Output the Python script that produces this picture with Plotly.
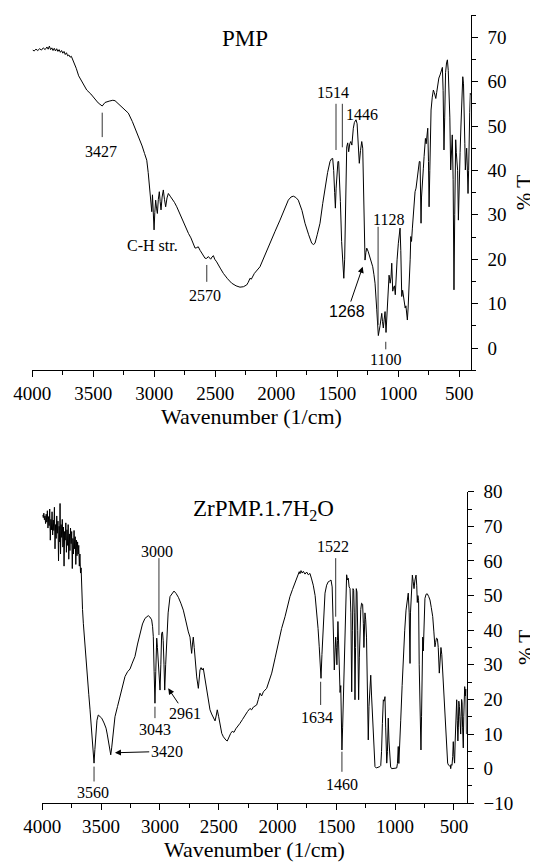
import plotly.graph_objects as go

# ---------------- PMP spectrum (top) ----------------
pmp_wn = [3997, 3985, 3970, 3955, 3940, 3925, 3910, 3895, 3880, 3870, 3860, 3850, 3840, 3830, 3820, 3810,
          3800, 3790, 3780, 3770, 3760, 3750, 3740, 3730, 3720, 3710, 3700, 3690, 3680, 3670, 3660,
          3640, 3620, 3595, 3575, 3554, 3520, 3490, 3460, 3427, 3404, 3370, 3340, 3322, 3290, 3260,
          3213, 3180, 3150, 3131, 3100, 3080, 3062, 3050, 3040, 3035, 3028, 3021, 3015, 3008, 3002,
          2996, 2989, 2982, 2975, 2967, 2959, 2952, 2945, 2936, 2926, 2917, 2907, 2896, 2885, 2870,
          2857, 2835, 2816, 2780, 2748, 2720, 2700, 2680, 2666, 2652, 2640, 2625, 2605, 2584, 2570,
          2557, 2545, 2538, 2527, 2516, 2505, 2489, 2460, 2434, 2400, 2366, 2330, 2298, 2270, 2243,
          2230, 2216, 2205, 2180, 2134, 2090, 2052, 2010, 1970, 1935, 1902, 1880, 1861, 1840, 1820,
          1790, 1765, 1735, 1710, 1695, 1683, 1665, 1642, 1620, 1601, 1580, 1560, 1548, 1538, 1530,
          1522, 1516, 1510, 1502, 1495, 1489, 1483, 1475, 1465, 1455, 1447, 1440, 1432, 1423, 1415,
          1407, 1398, 1390, 1381, 1375, 1369, 1360, 1347, 1338, 1330, 1320, 1310, 1300, 1292, 1285,
          1278, 1273, 1266, 1259, 1248, 1238, 1225, 1210, 1200, 1191, 1177, 1170, 1164, 1150, 1136,
          1130, 1123, 1116, 1109, 1101, 1094, 1087, 1080, 1076, 1067, 1060, 1054, 1046, 1040, 1032,
          1025, 1019, 1010, 1000, 992, 986, 980, 975, 972, 965, 958, 951, 944, 938, 932,
          926, 920, 915, 910, 903, 898, 892, 885, 875, 863, 855, 845, 836, 828, 822,
          818, 814, 810, 803, 795, 789, 783, 778, 772, 766, 759, 753, 748, 742, 736,
          732, 722, 713, 705, 699, 693, 686, 677, 668, 658, 649, 639, 633, 626, 620,
          613, 605, 598, 591, 585, 578, 571, 565, 558, 551, 544, 538, 530, 525, 519,
          514, 508, 502, 494, 487, 480, 472, 466, 461, 455, 451, 446, 440, 435, 429,
          424, 421, 415, 410, 407]
pmp_t = [67.1, 66.9, 67.3, 67.0, 67.4, 67.1, 67.6, 67.2, 67.8, 67.3, 68.0, 67.2, 67.6, 67.0, 67.5, 66.9,
         67.4, 66.8, 67.2, 66.6, 67.0, 66.4, 66.8, 66.1, 66.5, 65.8, 66.0, 65.5, 65.7, 65.0, 64.6,
         63.0, 61.3, 60.0, 58.9, 58.1, 57.2, 56.3, 55.2, 54.5, 55.3, 55.6, 55.8, 55.7, 54.9, 54.1,
         52.9, 51.0, 49.0, 47.6, 45.5, 43.8, 42.3, 39.5, 36.5, 34.8, 31.5, 30.7, 34.5, 31.0, 26.6,
         30.5, 33.3, 31.5, 30.3, 33.5, 35.2, 33.0, 31.1, 34.0, 35.6, 33.5, 31.8, 33.8, 34.8, 34.2,
         33.7, 32.8, 31.8, 29.5, 27.3, 25.8, 24.8, 23.3, 22.5, 22.6, 22.8, 22.0, 21.0, 20.2, 20.2,
         20.6, 20.2, 20.0, 20.5, 20.8, 20.0, 19.4, 18.0, 16.8, 15.6, 14.6, 14.0, 13.7, 13.8, 14.2,
         14.8, 15.7, 15.5, 16.8, 18.3, 21.0, 23.6, 26.3, 28.8, 31.2, 33.3, 34.0, 34.2, 33.9, 33.3,
         31.0, 28.1, 25.5, 23.6, 23.3, 23.6, 25.5, 28.1, 32.5, 36.3, 39.5, 42.0, 42.6, 42.7, 40.0,
         35.0, 31.5, 36.0, 41.0, 42.0, 42.0, 39.0, 33.0, 24.0, 18.0, 15.7, 20.0, 32.0, 45.3, 46.2,
         44.2, 46.0, 46.5, 45.7, 48.0, 49.5, 50.8, 51.4, 50.5, 47.0, 41.6, 44.5, 46.5, 45.0, 38.0,
         25.0, 19.8, 21.5, 22.5, 21.8, 21.0, 19.8, 18.3, 16.5, 14.6, 8.6, 6.2, 2.8, 5.0, 7.8,
         6.0, 4.5, 6.5, 8.2, 3.5, 6.5, 10.1, 14.0, 16.4, 14.6, 16.0, 19.1, 12.8, 13.5, 14.0,
         12.0, 16.7, 20.0, 23.6, 25.5, 27.0, 22.0, 14.0, 11.6, 13.0, 11.5, 10.1, 9.0, 9.5, 8.0,
         6.3, 9.0, 11.5, 13.8, 20.0, 25.1, 24.0, 27.0, 32.0, 35.2, 36.0, 38.5, 40.8, 42.0, 42.0,
         36.0, 28.1, 34.0, 38.5, 40.5, 43.1, 45.5, 47.2, 46.0, 47.5, 49.5, 42.0, 31.8, 40.0, 48.0,
         53.6, 56.5, 58.1, 57.5, 56.5, 56.2, 57.5, 59.8, 60.8, 61.5, 62.5, 63.2, 58.0, 44.6, 52.0,
         62.0, 64.2, 64.9, 62.5, 58.0, 52.0, 40.1, 46.0, 48.0, 38.0, 13.1, 30.0, 46.9, 44.0, 42.5,
         40.0, 28.8, 38.0, 44.0, 50.0, 56.0, 61.1, 59.5, 55.0, 46.0, 40.1, 42.0, 45.0, 41.0, 34.8,
         40.0, 49.1, 53.0, 57.4, 57.0]

# ---------------- ZrPMP.1.7H2O spectrum (bottom) ----------------
zr_wn = [3997, 3992, 3987, 3982, 3977, 3972, 3967, 3962, 3957, 3952, 3947, 3942, 3937, 3932, 3927, 3922,
         3917, 3912, 3907, 3902, 3897, 3892, 3887, 3882, 3877, 3872, 3867, 3862, 3857, 3852, 3849, 3845,
         3840, 3835, 3830, 3825, 3820, 3815, 3810, 3805, 3800, 3795, 3790, 3785, 3780, 3775, 3770, 3765,
         3760, 3755, 3750, 3745, 3740, 3735, 3730, 3725, 3720, 3715, 3710, 3705, 3700, 3695, 3690, 3685,
         3680, 3675, 3670, 3665, 3658, 3651, 3644, 3637, 3627, 3617, 3605, 3594, 3585, 3577, 3568, 3560,
         3553, 3546, 3535, 3524, 3510, 3495, 3475, 3458, 3448, 3439, 3428, 3418, 3410, 3401, 3390, 3382,
         3360, 3339, 3318, 3297, 3275, 3254, 3235, 3212, 3190, 3169, 3148, 3127, 3110, 3099, 3085, 3070,
         3062, 3056, 3049, 3042, 3035, 3027, 3021, 3016, 3008, 2999, 2992, 2985, 2978, 2972, 2965, 2959,
         2951, 2942, 2930, 2914, 2895, 2880, 2862, 2843, 2822, 2801, 2785, 2772, 2758, 2744, 2737, 2730,
         2723, 2716, 2708, 2700, 2687, 2673, 2666, 2659, 2650, 2640, 2631, 2617, 2602, 2588, 2574, 2560,
         2546, 2531, 2520, 2512, 2500, 2490, 2474, 2460, 2446, 2437, 2427, 2415, 2398, 2385, 2370, 2355,
         2335, 2319, 2298, 2276, 2255, 2234, 2220, 2205, 2190, 2177, 2163, 2149, 2135, 2120, 2092, 2070,
         2049, 2020, 1993, 1965, 1936, 1915, 1894, 1872, 1851, 1830, 1815, 1809, 1800, 1790, 1780, 1766,
         1752, 1738, 1724, 1710, 1696, 1680, 1667, 1655, 1645, 1637, 1630, 1622, 1612, 1596, 1582, 1568,
         1556, 1545, 1535, 1527, 1522, 1517, 1511, 1505, 1500, 1495, 1490, 1486, 1480, 1474, 1468, 1462,
         1457, 1452, 1446, 1440, 1432, 1423, 1417, 1412, 1405, 1398, 1391, 1383, 1376, 1369, 1363, 1358,
         1352, 1347, 1341, 1336, 1330, 1324, 1318, 1310, 1304, 1299, 1292, 1285, 1276, 1270, 1265, 1256,
         1250, 1243, 1235, 1228, 1222, 1214, 1207, 1200, 1190, 1180, 1171, 1160, 1150, 1140, 1130, 1122,
         1115, 1108, 1100, 1093, 1086, 1080, 1071, 1065, 1058, 1052, 1045, 1038, 1029, 1015, 1000, 986,
         980, 973, 968, 962, 952, 940, 930, 918, 907, 898, 888, 880, 876, 873, 869, 862,
         853, 846, 839, 831, 822, 816, 811, 806, 800, 795, 790, 785, 780, 775, 770, 765,
         760, 753, 746, 736, 726, 714, 703, 692, 680, 670, 661, 655, 648, 640, 633, 624,
         617, 610, 603, 595, 585, 575, 567, 560, 553, 545, 537, 530, 527, 522, 516, 510,
         505, 500, 494, 489, 482, 476, 471, 466, 462, 458, 453, 449, 445, 442, 438, 434,
         430, 426, 423, 420, 416, 412, 408, 403, 398, 393]
zr_t = [73.3, 72.5, 73.8, 71.9, 73.0, 70.8, 73.5, 71.2, 74.5, 69.5, 72.8, 70.2, 75.0, 66.0, 72.0, 69.0,
        74.2, 67.5, 71.8, 68.8, 75.5, 63.5, 70.5, 66.5, 73.0, 68.0, 71.5, 60.0, 70.0, 65.5, 76.6, 62.0,
        70.5, 66.8, 72.0, 64.0, 69.8, 58.5, 68.5, 66.0, 71.0, 62.5, 69.0, 64.5, 70.5, 60.5, 67.8, 63.0,
        69.5, 65.0, 68.5, 57.8, 66.5, 62.0, 68.8, 63.5, 67.0, 59.0, 66.0, 61.5, 65.5, 62.0, 64.5, 58.5,
        62.0, 56.5, 58.0, 50.7, 46.0, 42.0, 38.5, 35.2, 30.8, 26.6, 21.5, 17.0, 13.0, 9.3, 5.0, 1.6,
        5.5, 10.5, 14.0, 15.5, 15.0, 14.6, 13.2, 11.7, 10.0, 8.3, 5.5, 4.0, 6.0, 9.3, 12.8, 15.0,
        18.0, 20.8, 24.0, 26.6, 28.0, 28.8, 30.5, 32.4, 36.0, 39.1, 41.8, 43.4, 44.0, 44.2, 43.8, 43.0,
        41.0, 38.1, 28.0, 18.9, 28.0, 37.7, 35.0, 32.4, 30.0, 22.7, 30.0, 39.1, 39.5, 37.0, 30.0, 22.7,
        30.0, 39.0, 45.0, 49.7, 50.8, 51.3, 50.6, 49.5, 47.8, 45.8, 43.5, 41.0, 39.5, 38.0, 36.0, 33.3,
        36.0, 38.0, 35.0, 31.0, 26.5, 23.2, 25.5, 28.5, 29.2, 28.5, 29.0, 26.0, 22.7, 19.0, 17.0, 15.8,
        15.0, 13.8, 15.5, 17.0, 15.0, 13.0, 10.2, 9.2, 8.5, 8.2, 8.0, 9.0, 10.2, 10.8, 10.5, 11.5,
        12.3, 13.1, 14.2, 15.5, 16.5, 17.4, 17.0, 17.8, 18.0, 18.4, 20.0, 21.8, 21.0, 22.2, 23.2, 25.3,
        27.6, 32.0, 36.7, 40.5, 43.9, 47.0, 49.7, 51.8, 53.5, 55.5, 56.9, 56.3, 57.2, 56.5, 57.0, 56.2,
        56.8, 56.0, 56.4, 54.8, 53.0, 50.0, 45.8, 40.5, 35.2, 29.0, 26.1, 33.0, 42.0, 50.7, 53.0, 54.0,
        54.2, 54.5, 52.5, 45.0, 36.0, 28.5, 33.0, 38.0, 35.0, 30.0, 37.0, 42.5, 36.0, 25.0, 22.0, 24.0,
        15.0, 5.4, 12.0, 20.0, 28.0, 40.0, 50.0, 56.0, 54.5, 55.0, 52.5, 52.0, 45.0, 22.2, 40.0, 52.0,
        51.5, 45.0, 19.9, 35.0, 52.0, 51.0, 40.0, 19.9, 32.0, 40.0, 46.0, 47.8, 47.5, 42.0, 35.0, 45.0,
        43.0, 38.0, 25.0, 8.3, 18.0, 26.0, 27.0, 21.0, 13.0, 5.0, 0.6, 0.2, 0.3, 0.3, 0.6, 0.9,
        5.0, 13.0, 19.9, 19.5, 20.8, 12.0, 1.6, 5.0, 14.6, 8.0, 3.0, 0.5, 0.0, 0.0, 0.0, 0.2,
        1.5, 6.4, 1.5, 5.0, 14.0, 24.0, 32.4, 40.0, 45.8, 48.5, 50.7, 45.0, 40.0, 30.4, 45.0, 52.0,
        55.9, 54.0, 52.0, 54.5, 55.9, 53.0, 48.0, 50.0, 48.5, 30.0, 18.0, 8.0, 5.4, 15.0, 30.0, 38.0,
        34.0, 42.0, 49.2, 50.4, 50.5, 49.7, 48.7, 46.5, 43.9, 39.5, 35.2, 36.5, 37.7, 37.5, 35.0, 27.6,
        32.0, 35.0, 33.0, 28.0, 20.0, 14.0, 11.2, 5.0, 1.6, 1.0, 0.8, 1.0, 0.0, 1.2, 1.0, 3.5,
        7.8, 4.0, 1.6, 8.0, 15.0, 19.9, 14.0, 8.0, 12.0, 19.5, 18.0, 15.0, 10.0, 10.0, 15.0, 20.0,
        19.0, 12.0, 8.0, 6.0, 15.0, 22.0, 23.7, 21.0, 23.0, 10.0]

x_ticks = [4000, 3500, 3000, 2500, 2000, 1500, 1000, 500]
x_title = "Wavenumber (1/cm)"
y_title = "% T"
top_title = "PMP"
bottom_title = "ZrPMP.1.7H<sub>2</sub>O"

# peak labels: (text, x, y)
top_labels = [("3427", 3440, 44.2), ("C-H str.", 3016, 23.0), ("2570", 2584, 11.9),
              ("1514", 1533, 57.5), ("1446", 1300, 52.5), ("1128", 1082, 29.0), ("1100", 1109, -2.7)]
top_marks = [(3427, 53.0, 47.5), (2570, 18.7, 14.9), (1511, 55.0, 44.6), (1459, 55.0, 45.2),
             (1166, 27.3, 5.2), (1103, 1.4, -0.3)]
bot_labels = [("3000", 3027, 62.7), ("3043", 3042, 11.4), ("1522", 1525, 64.1), ("3560", 3566, -6.9),
              ("1634", 1667, 14.9), ("1460", 1454, -4.7)]
bot_marks = [(3008, 60.8, 38.6), (3042, 17.9, 14.6), (3560, 0.6, -3.7), (1505, 60.8, 43.9),
             (1633, 25.1, 18.4), (1452, 4.9, -0.9)]
# arrowed labels: (text, text_x, text_y, tip_x, tip_y)
top_arrows = [("1268", 1418, 8.2, 1292, 18.3)]
bot_arrows = [("2961", 2787, 16.0, 2929, 23.2), ("3420", 2942, 5.0, 3382, 4.6)]

SERIF = "Liberation Serif"

# page is drawn inside an 8 px body margin, so the figure is 8 px smaller on each side
W, H, OFF = 530, 858, 8

def fx(px):
    return (px - OFF) / W

def fy(py):
    return 1 - (py - OFF) / H

fig = go.Figure()
fig.add_trace(go.Scatter(x=pmp_wn, y=pmp_t, mode="lines", line=dict(color="black", width=1),
                         xaxis="x", yaxis="y", showlegend=False, hoverinfo="skip"))
fig.add_trace(go.Scatter(x=zr_wn, y=zr_t, mode="lines", line=dict(color="black", width=1),
                         xaxis="x2", yaxis="y2", showlegend=False, hoverinfo="skip"))

def xaxis_cfg(domain, rng, anchor):
    return dict(domain=domain, range=rng, anchor=anchor, showline=True, linecolor="black", linewidth=1,
                ticks="outside", ticklen=6, tickcolor="black", tickvals=x_ticks, automargin=False,
                minor=dict(dtick=250, tick0=0, ticks="outside", ticklen=4, tickcolor="black"),
                showgrid=False, zeroline=False,
                tickfont=dict(family=SERIF, size=19, color="black"),
                title=dict(text=x_title, font=dict(family=SERIF, size=22, color="black"), standoff=4))

def yaxis_cfg(domain, rng, anchor):
    return dict(domain=domain, range=rng, anchor=anchor, side="right", showline=True, linecolor="black",
                linewidth=1, ticks="outside", ticklen=6, tickcolor="black", dtick=10, tick0=0,
                automargin=False, ticklabelstandoff=6,
                minor=dict(dtick=5, tick0=0, ticks="outside", ticklen=4, tickcolor="black"),
                showgrid=False, zeroline=False,
                tickfont=dict(family=SERIF, size=19, color="black"),
                title=dict(text=y_title, font=dict(family=SERIF, size=21, color="black"), standoff=10))

fig.update_layout(
    width=W, height=H, margin=dict(l=0, r=0, t=0, b=0, autoexpand=False),
    paper_bgcolor="white", plot_bgcolor="white",
    xaxis=xaxis_cfg([fx(32.3), fx(470.7)], [4000, 407], "y"),
    yaxis=yaxis_cfg([fy(370.2), fy(15)], [-5, 75], "x"),
    xaxis2=xaxis_cfg([fx(42.3), fx(466.7)], [4000, 391], "y2"),
    yaxis2=yaxis_cfg([fy(803.3), fy(491.7)], [-10, 80], "x2"),
)

ann = []
ann.append(dict(x=2257, y=69.8, xref="x", yref="y", text=top_title, showarrow=False,
                font=dict(family=SERIF, size=23, color="black")))
ann.append(dict(x=2115, y=74.7, xref="x2", yref="y2", text=bottom_title, showarrow=False,
                font=dict(family=SERIF, size=23, color="black")))
for t, x, y in top_labels:
    ann.append(dict(x=x, y=y, xref="x", yref="y", text=t, showarrow=False,
                    font=dict(family=SERIF, size=16, color="black")))
for t, x, y in bot_labels:
    ann.append(dict(x=x, y=y, xref="x2", yref="y2", text=t, showarrow=False,
                    font=dict(family=SERIF, size=16, color="black")))
for t, tx, ty, x, y in top_arrows:
    ann.append(dict(x=x, y=y, ax=tx, ay=ty, xref="x", yref="y", axref="x", ayref="y", text=t,
                    showarrow=True, arrowhead=2, arrowsize=1.2, arrowwidth=1, arrowcolor="black",
                    standoff=0, font=dict(family="Liberation Sans", size=16, color="black")))
for t, tx, ty, x, y in bot_arrows:
    ann.append(dict(x=x, y=y, ax=tx, ay=ty, xref="x2", yref="y2", axref="x2", ayref="y2", text=t,
                    showarrow=True, arrowhead=2, arrowsize=1.2, arrowwidth=1, arrowcolor="black",
                    standoff=0, font=dict(family=SERIF, size=16, color="black")))
fig.update_layout(annotations=ann)

shapes = []
for x, y0, y1 in top_marks:
    shapes.append(dict(type="line", xref="x", yref="y", x0=x, x1=x, y0=y0, y1=y1,
                       line=dict(color="#333333", width=1)))
for x, y0, y1 in bot_marks:
    shapes.append(dict(type="line", xref="x2", yref="y2", x0=x, x1=x, y0=y0, y1=y1,
                       line=dict(color="#333333", width=1)))
fig.update_layout(shapes=shapes)

fig.write_html("out.html")
